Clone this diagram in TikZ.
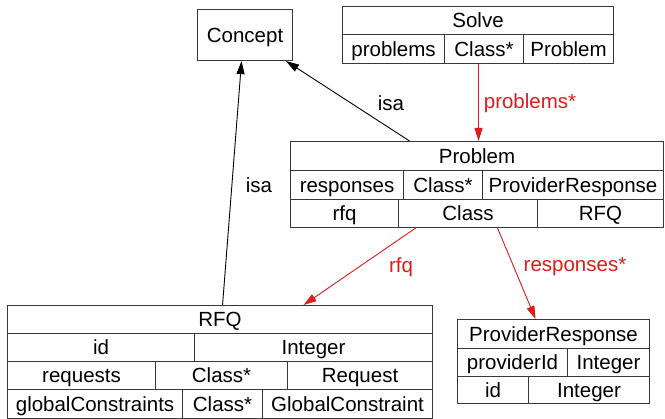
\documentclass[tikz,border=0pt]{standalone}
\usepackage{fontspec}
\setmainfont{Liberation Sans}
\usetikzlibrary{arrows.meta}
\definecolor{refred}{RGB}{222,28,28}
\definecolor{rule}{RGB}{55,55,55}
\tikzset{
  cell/.style={draw=rule, line width=1.1pt, inner sep=0pt, anchor=north west,
               text height=16pt, text depth=1.3pt,
               font=\fontsize{20.5}{23}\selectfont},
  isa/.style={draw=black, line width=0.9pt, -{Triangle[length=13pt,width=8pt]}},
  ref/.style={draw=refred, line width=0.9pt, -{Triangle[length=13pt,width=8pt]}},
  lbl/.style={font=\fontsize{20.5}{23}\selectfont, inner sep=0pt},
  rlbl/.style={lbl, text=refred},
}
\begin{document}
\begin{tikzpicture}[x=1pt,y=-1pt]
  \fill[white] (0,0) rectangle (665,419);
  \useasboundingbox (0,0) rectangle (665,419);

  % Concept
  \node[cell, minimum width=95pt, minimum height=51pt] (concept) at (197,9) {Concept};

  % Solve
  \node[cell, minimum width=271pt, minimum height=28pt] (solve) at (342,6) {Solve};
  \node[cell, minimum width=102pt, minimum height=29pt] (s1) at (342,34) {problems};
  \node[cell, minimum width=79pt,  minimum height=29pt] (s2) at (444,34) {Class*};
  \node[cell, minimum width=90pt,  minimum height=29pt] (s3) at (523,34) {Problem};

  % Problem
  \node[cell, minimum width=373pt, minimum height=29pt] (problem) at (290,141) {Problem};
  \node[cell, minimum width=113pt, minimum height=29pt] (p1) at (290,170) {responses};
  \node[cell, minimum width=79pt,  minimum height=29pt] (p2) at (403,170) {Class*};
  \node[cell, minimum width=181pt, minimum height=29pt] (p3) at (482,170) {ProviderResponse};
  \node[cell, minimum width=108pt, minimum height=28pt] (p4) at (290,199) {rfq};
  \node[cell, minimum width=139pt, minimum height=28pt] (p5) at (398,199) {Class};
  \node[cell, minimum width=126pt, minimum height=28pt] (p6) at (537,199) {RFQ};

  % RFQ
  \node[cell, minimum width=425pt, minimum height=28pt] (rfq) at (7,305) {RFQ};
  \node[cell, minimum width=187pt, minimum height=28pt] (r1) at (7,333) {id};
  \node[cell, minimum width=238pt, minimum height=28pt] (r2) at (194,333) {Integer};
  \node[cell, minimum width=148pt, minimum height=28pt] (r3) at (7,361) {requests};
  \node[cell, minimum width=132pt, minimum height=28pt] (r4) at (155,361) {Class*};
  \node[cell, minimum width=145pt, minimum height=28pt] (r5) at (287,361) {Request};
  \node[cell, minimum width=175pt, minimum height=29pt] (r6) at (7,389) {globalConstraints};
  \node[cell, minimum width=80pt,  minimum height=29pt] (r7) at (182,389) {Class*};
  \node[cell, minimum width=170pt, minimum height=29pt] (r8) at (262,389) {GlobalConstraint};

  % ProviderResponse
  \node[cell, minimum width=192pt, minimum height=29pt] (pr) at (457,319) {ProviderResponse};
  \node[cell, minimum width=110pt, minimum height=28pt] (q1) at (457,348) {providerId};
  \node[cell, minimum width=82pt,  minimum height=28pt] (q2) at (567,348) {Integer};
  \node[cell, minimum width=71pt,  minimum height=27pt] (q3) at (457,376) {id};
  \node[cell, minimum width=121pt, minimum height=27pt] (q4) at (528,376) {Integer};

  % Connectors
  \draw[ref] ([xshift=-5.5pt]s2.south) -- ([xshift=1.5pt]problem.north);
  \node[rlbl] (lproblems) at (530,103) {problems*};

  \draw[isa] ([xshift=-67.5pt]problem.north) -- ([xshift=-7pt]concept.south east);
  \node[lbl] (lisa1) at (391,103) {isa};

  \draw[isa] ([xshift=2.5pt]rfq.north) -- ([xshift=-3.5pt]concept.south);
  \node[lbl] (lisa2) at (259,185) {isa};

  \draw[ref] ([xshift=-52.5pt]p5.south) -- ([xshift=83.5pt]rfq.north);
  \node[rlbl] (lrfq) at (401,267) {rfq};

  \draw[ref] ([xshift=29.5pt]p5.south) -- ([xshift=-18pt]pr.north);
  \node[rlbl] (lresp) at (575,267) {responses*};
\end{tikzpicture}
\end{document}
